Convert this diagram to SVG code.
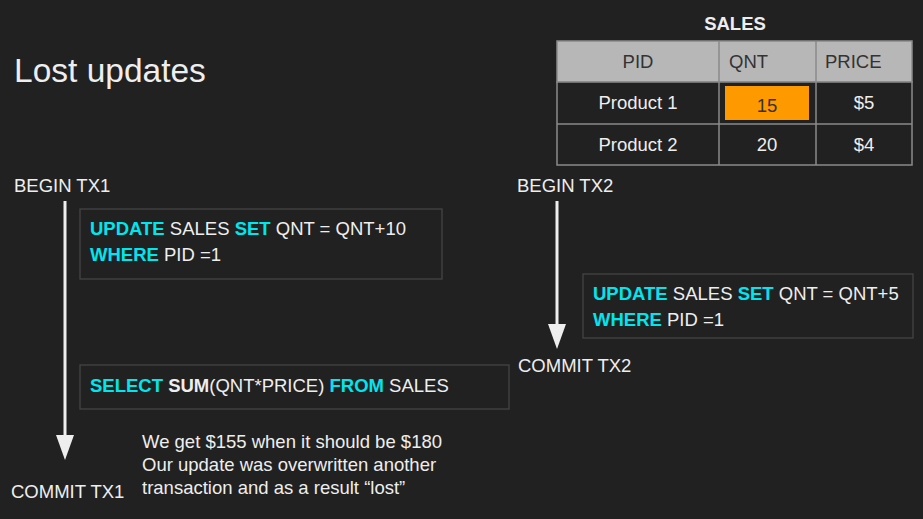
<svg xmlns="http://www.w3.org/2000/svg" width="923" height="519" viewBox="0 0 923 519">
<style>
text{font-family:"Liberation Sans",Arial,sans-serif;fill:#eeeeee;font-size:18.5px}
.k{fill:#00e5ee;font-weight:bold}
.b{font-weight:bold}
.box{fill:#212121;stroke:#444;stroke-width:1.3}
.cell{stroke:#8a8a8a;stroke-width:1.5}
.th{fill:#333}
.td{text-anchor:middle}
</style>
<rect width="923" height="519" fill="#212121"/>
<text x="14" y="82" style="font-size:33.5px">Lost updates</text>

<g id="table">
<text x="735" y="30" class="b" text-anchor="middle">SALES</text>
<rect x="557" y="41" width="355" height="41" fill="#b7b7b7" class="cell"/>
<rect x="557" y="82" width="355" height="83" fill="#212121" class="cell"/>
<line x1="557" y1="124" x2="912" y2="124" class="cell"/>
<line x1="719" y1="41" x2="719" y2="165" class="cell"/>
<line x1="816" y1="41" x2="816" y2="165" class="cell"/>
<rect x="725" y="86" width="84" height="34" fill="#ff9900"/>
<text x="638" y="68" class="th" text-anchor="middle">PID</text>
<text x="729" y="68" class="th">QNT</text>
<text x="825" y="68" class="th">PRICE</text>
<text x="638" y="109" class="td">Product 1</text>
<text x="767" y="112" class="td" style="fill:#333">15</text>
<text x="864" y="109" class="td">$5</text>
<text x="638" y="151" class="td">Product 2</text>
<text x="767" y="151" class="td">20</text>
<text x="864" y="151" class="td">$4</text>
</g>

<g id="tx1-begin"><text x="14" y="192">BEGIN TX1</text></g>
<g id="tx1-commit"><text x="11" y="498">COMMIT TX1</text></g>
<g id="tx2-begin"><text x="517" y="192">BEGIN TX2</text></g>
<g id="tx2-commit"><text x="518" y="372">COMMIT TX2</text></g>

<g id="connectors" fill="#eeeeee" stroke="none">
<rect x="63.5" y="201" width="3" height="236"/>
<polygon points="56,435 74,435 65,460"/>
<rect x="555.5" y="201" width="3" height="125"/>
<polygon points="548,324 566,324 557,349"/>
</g>

<g id="update1">
<rect x="80" y="209" width="362" height="70" class="box"/>
<text x="90" y="235"><tspan class="k">UPDATE</tspan> SALES <tspan class="k">SET</tspan> QNT = QNT+10</text>
<text x="90" y="261"><tspan class="k">WHERE</tspan> PID =1</text>
</g>

<g id="update2">
<rect x="583" y="274" width="330" height="64" class="box"/>
<text x="593" y="300"><tspan class="k">UPDATE</tspan> SALES <tspan class="k">SET</tspan> QNT = QNT+5</text>
<text x="593" y="326"><tspan class="k">WHERE</tspan> PID =1</text>
</g>

<g id="select">
<rect x="80" y="365" width="429" height="44" class="box"/>
<text x="90" y="392"><tspan class="k">SELECT</tspan> <tspan class="b">SUM</tspan>(QNT*PRICE) <tspan class="k">FROM</tspan> SALES</text>
</g>

<g id="note">
<text x="142" y="448">We get $155 when it should be $180</text>
<text x="142" y="471">Our update was overwritten another</text>
<text x="142" y="494">transaction and as a result “lost”</text>
</g>
</svg>
